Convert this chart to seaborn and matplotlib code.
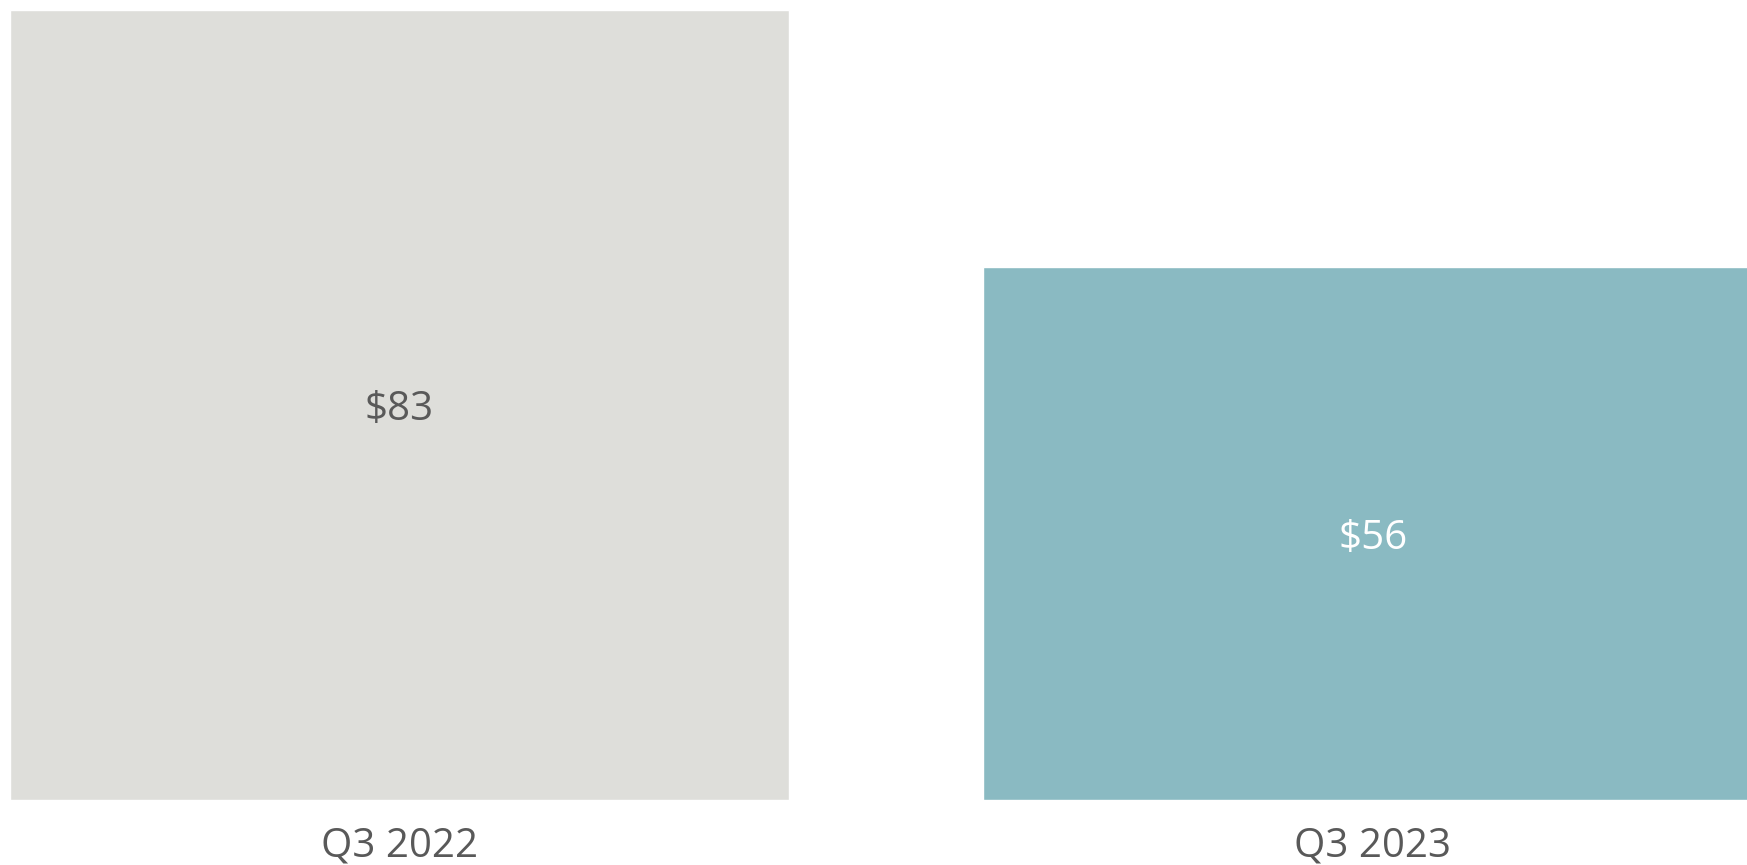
import matplotlib
matplotlib.use("Agg")
import matplotlib.pyplot as plt
import matplotlib.transforms as mtransforms
import seaborn as sns
import pandas as pd

quarters = ["Q3 2022", "Q3 2023"]
values = [83, 56]
value_labels = ["$83", "$56"]
bar_colors = ["#DEDEDA", "#8ABAC2"]
label_colors = ["#595959", "#FFFFFF"]

sns.set_theme(style="white")
plt.rcParams["font.family"] = ["Open Sans", "DejaVu Sans"]

df = pd.DataFrame({"quarter": quarters, "value": values})

fig = plt.figure(figsize=(17.47, 8.65), dpi=100)
W, H = 1747, 865
# axes run slightly past the right edge so the second bar is clipped
ax = fig.add_axes([10 / W, 65 / H, 1752 / W, 790 / H])

sns.barplot(data=df, x="quarter", y="value", hue="quarter", palette=bar_colors,
            width=0.8, legend=False, ax=ax, saturation=1)

ax.set_xlim(-0.4, 1.4)
ax.set_ylim(0, 83)
for s in ax.spines.values():
    s.set_visible(False)
ax.set_yticks([])
ax.set_xlabel("")
ax.set_ylabel("")
ax.tick_params(axis="x", length=0, pad=19, labelsize=29, labelcolor="#595959")

shift = mtransforms.offset_copy(ax.transData, fig=fig, x=0, y=-5, units="dots")
for i, (v, lab, c) in enumerate(zip(values, value_labels, label_colors)):
    ax.text(i, v / 2, lab, ha="center", va="center", fontsize=29, color=c,
            transform=shift)

fig.savefig("out.png", dpi=100)
